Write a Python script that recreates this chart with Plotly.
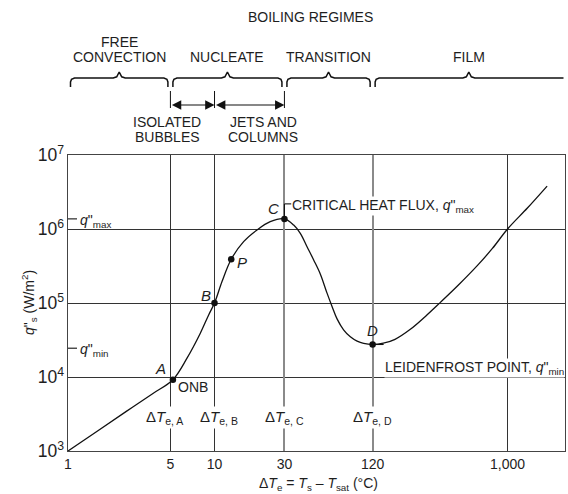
import numpy as np
import plotly.graph_objects as go

# ---------------- data ----------------
# boiling curve  (excess temperature dT_e in degC, surface heat flux q"s in W/m2)
dT_curve = [1, 1.6, 2.5, 3.8, 5.2, 6.49, 8.0, 9.12, 10, 11.25, 13.0, 15.8, 19.5, 24.0,
            30, 34.7, 38.5, 42.8, 47.5, 52.7, 58.6, 63.4, 68.6, 76.0, 84.5, 94.0, 104.2,
            120, 142, 170.6, 217, 275, 348, 462, 619, 788, 1000, 1366, 1862]
q_curve = [1.0e3, 1.88e3, 3.43e3, 6.0e3, 9.2e3, 1.80e4, 3.91e4, 6.90e4, 1.0e5, 1.95e5,
           3.9e5, 6.74e5, 9.7e5, 1.256e6, 1.37e6, 1.13e6, 8.75e5, 5.77e5, 3.82e5, 2.47e5,
           1.36e5, 9.0e4, 6.1e4, 4.34e4, 3.49e4, 3.05e4, 2.84e4,
           2.75e4, 2.86e4, 3.23e4, 4.41e4, 6.59e4, 1.02e5, 1.75e5, 3.17e5, 5.46e5, 1.0e6,
           1.92e6, 3.80e6]

# marked points
pt_names = ["A", "B", "P", "C", "D"]
pt_dT = [5.2, 10, 13.0, 30, 120]
pt_q = [9.2e3, 1.0e5, 3.9e5, 1.37e6, 2.75e4]

Q_MAX = 1.37e6      # critical heat flux (point C)
Q_MIN = 2.45e4      # Leidenfrost heat flux label level

# axes
X_RANGE = [1, 2466]
Y_RANGE = [1e3, 1e7]
x_tickvals = [1, 5, 10, 30, 120, 1000]
x_ticktext = ["1", "5", "10", "30", "120", "1,000"]
grid_dark = [5, 10, 1000]
grid_grey = [30, 120]

# boiling regimes
regime_names = [["FREE", "CONVECTION"], ["NUCLEATE"], ["TRANSITION"], ["FILM"]]
regime_edges = [1, 5, 30, 120, 2466]
sub_edges = [5, 10, 30]
sub_names = [["ISOLATED", "BUBBLES"], ["JETS AND", "COLUMNS"]]

dT_labels = ["Δ<i>T</i><sub>e, A</sub>", "Δ<i>T</i><sub>e, B</sub>",
             "Δ<i>T</i><sub>e, C</sub>", "Δ<i>T</i><sub>e, D</sub>"]
dT_label_at = [5, 10, 30, 120]

X_TITLE = "Δ<i>T</i><sub>e</sub> = <i>T</i><sub>s</sub> – <i>T</i><sub>sat</sub> (°C)"
Y_TITLE = '<i>q</i>"<sub>s</sub> (W/m<sup>2</sup>)'

# ---------------- geometry / style ----------------
W, H = 568, 494
ML, MR, MT, MB = 68, 3, 0, 43
PW, PH = W - ML - MR, H - MT - MB
PLOT_TOP = 155                      # px from top of main plot
MAIN_TOP = (PH - PLOT_TOP) / PH     # domain fraction
LX0, LX1 = np.log10(X_RANGE[0]), np.log10(X_RANGE[1])
PXDEC = PW / (LX1 - LX0)            # pixels per decade


def d(px):
    return px / PXDEC


def ypap(py):
    return (PH - py) / PH


def xpap(px):
    return (px - ML) / PW


FONT = "Liberation Sans, Arial, sans-serif"
TXT = "#1e1e1e"
FS = 14

fig = go.Figure()

# main curve
fig.add_trace(go.Scatter(x=dT_curve, y=q_curve, mode="lines",
                         line=dict(color="#111", width=1.3, shape="spline", smoothing=1.0),
                         xaxis="x", yaxis="y", hoverinfo="skip", showlegend=False))
fig.add_trace(go.Scatter(x=pt_dT, y=pt_q, mode="markers",
                         marker=dict(color="#111", size=6.5),
                         xaxis="x", yaxis="y", showlegend=False))
# empty traces so overlay grid axes exist
fig.add_trace(go.Scatter(x=[], y=[], xaxis="x2", yaxis="y", showlegend=False))
fig.add_trace(go.Scatter(x=[], y=[], xaxis="x4", yaxis="y", showlegend=False))

# ---------------- braces (top strip, y2 in pixel units) ----------------
bx, by = [], []
for i in range(len(regime_names)):
    a, b = np.log10(regime_edges[i]), np.log10(regime_edges[i + 1])
    la, lb, lm = a + d(2.5), b - d(2.5), (a + b) / 2
    last = i == len(regime_names) - 1
    pts = [(la, 87), (la, 82), (la + d(1), 79.2), (la + d(4), 78),
           (lm - d(6), 78), (lm - d(2.5), 76.8), (lm, 72), (lm + d(2.5), 76.8), (lm + d(6), 78)]
    if last:
        pts += [(b - d(1.5), 78)]
    else:
        pts += [(lb - d(4), 78), (lb - d(1), 79.2), (lb, 82), (lb, 87)]
    bx += [10 ** p[0] for p in pts] + [None]
    by += [p[1] for p in pts] + [None]
fig.add_trace(go.Scatter(x=bx, y=by, mode="lines", line=dict(color="#111", width=1.5),
                         xaxis="x3", yaxis="y2", hoverinfo="skip", showlegend=False))

# sub-regime ticks
tx, ty = [], []
for e in sub_edges:
    tx += [e, e, None]
    ty += [91, 108, None]
fig.add_trace(go.Scatter(x=tx, y=ty, mode="lines", line=dict(color="#111", width=1),
                         xaxis="x3", yaxis="y2", hoverinfo="skip", showlegend=False))

ann = []
for i in range(len(sub_edges) - 1):
    ann.append(dict(xref="x3", yref="y2", axref="x3", ayref="y2",
                    x=np.log10(sub_edges[i + 1]), y=105,
                    ax=np.log10(sub_edges[i]), ay=105, text="",
                    showarrow=True, arrowhead=2, arrowside="end+start",
                    arrowsize=1.7, arrowwidth=1.1, arrowcolor="#111",
                    standoff=0, startstandoff=0))


def label(**kw):
    base = dict(showarrow=False, xanchor="center", yanchor="middle",
                font=dict(size=FS, color=TXT, family=FONT))
    base.update(kw)
    ann.append(base)


# regime labels
for i, names in enumerate(regime_names):
    lm = (np.log10(regime_edges[i]) + np.log10(regime_edges[i + 1])) / 2
    for k, nm in enumerate(reversed(names)):
        label(xref="x3", yref="y2", x=lm, y=57 - 15 * k, text=nm)
label(xref="paper", yref="y2", x=xpap(310), y=17, text="BOILING REGIMES")
sub_x = [167, 263]
for i, names in enumerate(sub_names):
    for k, nm in enumerate(names):
        label(xref="paper", yref="y2", x=xpap(sub_x[i]), y=122 + 15 * k, text=nm)

# ---------------- point labels ----------------
pt_shift = {"A": (-12, 11), "B": (-9, 8), "P": (11, -3), "C": (-11, 10), "D": (0, 14)}
for nm, xv, yv in zip(pt_names, pt_dT, pt_q):
    sx, sy = pt_shift[nm]
    label(xref="x", yref="y", x=np.log10(xv), y=np.log10(yv), text=f"<i>{nm}</i>",
          xshift=sx, yshift=sy, font=dict(size=FS + 1, color=TXT, family=FONT))
label(xref="x", yref="y", x=np.log10(pt_dT[0]), y=np.log10(pt_q[0]), text="ONB",
      xshift=20, yshift=-7.5)

# critical heat flux / Leidenfrost labels
label(xref="x", yref="y", x=np.log10(pt_dT[3]), y=np.log10(pt_q[3]),
      text='CRITICAL HEAT FLUX, <i>q</i>"<sub>max</sub>',
      xanchor="left", xshift=7, yshift=13, bgcolor="white", borderpad=0)
label(xref="x", yref="y", x=np.log10(pt_dT[4]), y=np.log10(pt_q[4]),
      text='LEIDENFROST POINT, <i>q</i>"<sub>min</sub>',
      xanchor="left", xshift=11, yshift=-23.5, bgcolor="white", borderpad=0)
# q"max / q"min on the axis
for txt, qv in [('<i>q</i>"<sub>max</sub>', Q_MAX), ('<i>q</i>"<sub>min</sub>', Q_MIN)]:
    label(xref="paper", yref="y", x=0, y=np.log10(qv), text=txt,
          xanchor="left", xshift=10, yshift=-2)

# dT_e labels
dshift = [-6, 4, 0, 0]
for lab, xv, sx in zip(dT_labels, dT_label_at, dshift):
    label(xref="x", yref="paper", x=np.log10(xv), y=ypap(417), text=lab,
          xshift=sx, bgcolor="white", borderpad=1,
          font=dict(size=FS + 1, color=TXT, family=FONT))

# axis titles
label(xref="paper", yref="paper", x=xpap(318), y=ypap(484), text=X_TITLE)
label(xref="paper", yref="paper", x=xpap(29), y=ypap(303), text=Y_TITLE, textangle=-90)

# ---------------- leader shapes ----------------
shapes = []
LC = dict(color="#111", width=1.1)
shapes.append(dict(type="line", xref="x", yref="y", xsizemode="pixel", ysizemode="pixel",
                   xanchor=pt_dT[3], yanchor=pt_q[3], x0=0, x1=0, y0=0, y1=15, line=LC))
shapes.append(dict(type="line", xref="x", yref="y", xsizemode="pixel", ysizemode="pixel",
                   xanchor=pt_dT[3], yanchor=pt_q[3], x0=0, x1=7, y0=15, y1=15, line=LC))
shapes.append(dict(type="line", xref="x", yref="y", xsizemode="pixel", ysizemode="pixel",
                   xanchor=pt_dT[4], yanchor=pt_q[4], x0=0, x1=11, y0=-21.5, y1=-21.5, line=LC))
for qv in [Q_MAX, Q_MIN]:
    shapes.append(dict(type="line", xref="paper", yref="y", xsizemode="pixel",
                       ysizemode="pixel", xanchor=0, yanchor=qv, x0=0, x1=9, y0=0, y1=0,
                       line=LC))

logx = [LX0, LX1]
fig.update_layout(
    width=W, height=H, margin=dict(l=ML, r=MR, t=MT, b=MB, autoexpand=False),
    paper_bgcolor="white", plot_bgcolor="white",
    font=dict(family=FONT, size=FS, color=TXT),
    xaxis=dict(type="log", range=logx, tickvals=x_tickvals, ticktext=x_ticktext,
               showgrid=False, zeroline=False, ticks="", showline=True, linecolor="#444",
               linewidth=1.3, mirror=True, anchor="y", automargin=False,
               tickfont=dict(size=FS, color=TXT)),
    xaxis2=dict(type="log", range=logx, overlaying="x", tickvals=grid_dark,
                showticklabels=False, showgrid=True, gridcolor="#333", gridwidth=1,
                ticks="", showline=False, zeroline=False, automargin=False),
    xaxis4=dict(type="log", range=logx, overlaying="x", tickvals=grid_grey,
                showticklabels=False, showgrid=True, gridcolor="#8a8a8a", gridwidth=1.6,
                ticks="", showline=False, zeroline=False, automargin=False),
    xaxis3=dict(type="log", range=logx, anchor="y2", visible=False, automargin=False),
    yaxis=dict(type="log", range=[3, 7], domain=[0, MAIN_TOP], dtick=1,
               exponentformat="power", showgrid=True, gridcolor="#333", gridwidth=1,
               zeroline=False, ticks="", showline=True, linecolor="#444", linewidth=1.3,
               mirror=True, anchor="x", automargin=False,
               tickfont=dict(size=FS, color=TXT)),
    yaxis2=dict(range=[PLOT_TOP, 0], domain=[MAIN_TOP, 1], anchor="x3", visible=False,
                automargin=False),
    annotations=ann, shapes=shapes, showlegend=False,
)

fig.write_html("out.html", config={"displayModeBar": False},
               post_script="document.body.style.margin='0';document.body.style.overflow='hidden';")
